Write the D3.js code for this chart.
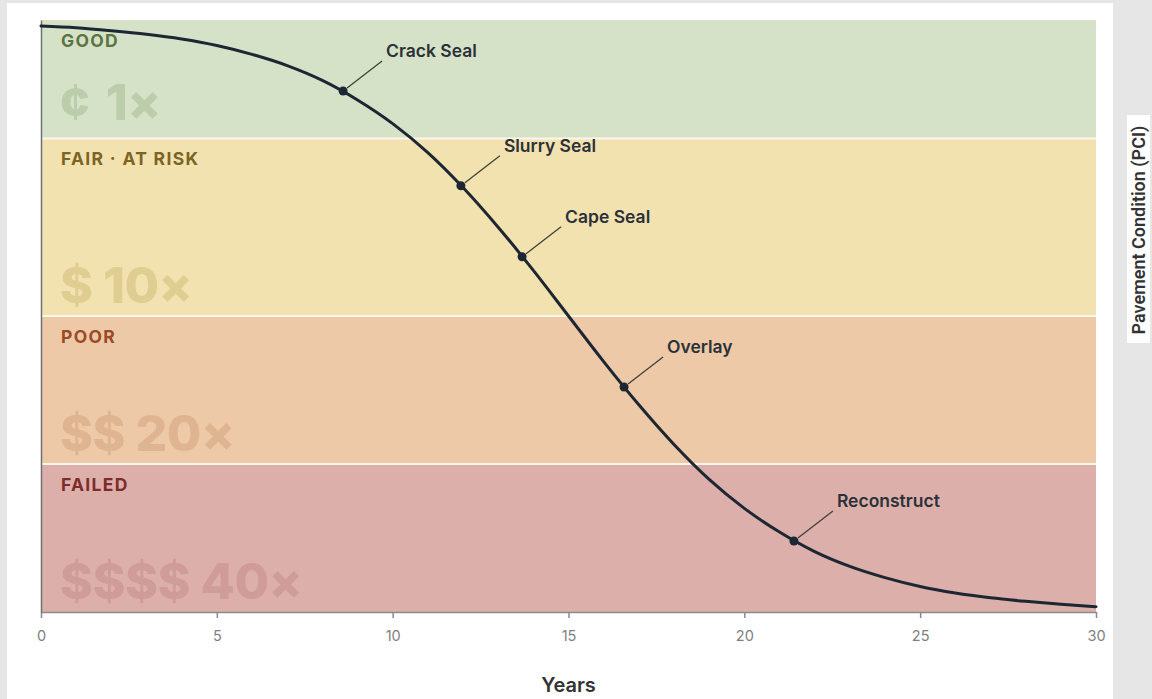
<!DOCTYPE html>
<html><head><meta charset="utf-8">
<script src="https://cdn.jsdelivr.net/npm/d3@7"></script>
<style>
html,body{margin:0;padding:0;background:#e6e6e6;}
svg{display:block;font-family:Inter,"Noto Sans",sans-serif;}
</style></head>
<body>
<svg id="chart" width="1152" height="699"></svg>
<script>
// ---- data ----
const years = [0,1,2,3,4,5,6,7,8,9,10,11,12,13,14,15,16,17,18,19,20,21,22,23,24,25,26,27,28,29,30];
const pci = [99.0,98.7,98.2,97.6,96.8,95.7,94.2,92.3,89.8,86.5,82.5,77.6,71.7,65.0,57.7,50.0,42.3,35.0,28.3,22.4,17.5,13.5,10.2,7.7,5.8,4.3,3.2,2.4,1.8,1.3,0.9];
const bandNames = ["GOOD","FAIR · AT RISK","POOR","FAILED"];
const bandLow = [80,50,25,0];
const bandHigh = [100,80,50,25];
const costLabels = ["¢ 1×","$ 10×","$$ 20×","$$$$ 40×"];
const treatments = ["Crack Seal","Slurry Seal","Cape Seal","Overlay","Reconstruct"];
const treatYears = [8.59,11.94,13.68,16.58,21.41];
const treatPci = [88,72,60,38,12];
const xTicks = [0,5,10,15,20,25,30];

// ---- styles ----
const bandFill = ["#d6e2c7","#f2e2b0","#edc9a7","#ddafab"];
const bandText = ["#5b7442","#7d6424","#9c4b26","#7c2c2c"];
const costFill = ["#bccdab","#dfcd92","#dfb491","#d09c9a"];

const svg = d3.select("#chart");
// white panel
svg.append("rect").attr("x",7).attr("y",3).attr("width",1106).attr("height",700).attr("fill","#ffffff");

const x = d3.scaleLinear().domain([0,30]).range([41,1096]);
const y = d3.scaleLinear().domain([0,100]).range([612,20]);

// bands
const bands = svg.append("g");
bandNames.forEach((name,i)=>{
  bands.append("rect")
    .attr("x",x(0)).attr("y",y(bandHigh[i]))
    .attr("width",x(30)-x(0)).attr("height",y(bandLow[i])-y(bandHigh[i]))
    .attr("fill",bandFill[i]);
});
// separators
bandLow.slice(0,3).forEach(v=>{
  bands.append("line").attr("x1",x(0)).attr("x2",x(30)).attr("y1",y(v)).attr("y2",y(v))
    .attr("stroke","#fbf6ec").attr("stroke-width",2);
});
bandNames.forEach((name,i)=>{
  bands.append("text").attr("x",x(0)+20).attr("y",y(bandHigh[i])+27)
    .attr("font-size",17.5).attr("font-weight",700).attr("letter-spacing",1.3)
    .attr("fill",bandText[i]).text(name);
  bands.append("text").attr("x",x(0)+19).attr("y",y(bandLow[i])-(i===0?18:13))
    .attr("font-size",50).attr("font-weight",800).attr("letter-spacing",-0.5)
    .attr("fill",costFill[i]).attr("word-spacing",i===0?6:0).text(costLabels[i]);
});

// axes
const xAxis = d3.axisBottom(x).tickValues(xTicks).tickSize(6).tickPadding(13).tickSizeOuter(0);
const gx = svg.append("g").attr("transform",`translate(0,${y(0)})`).call(xAxis);
gx.select(".domain").attr("stroke","#8a8a8a").attr("stroke-width",1.5);
gx.selectAll(".tick line").attr("stroke","#8a8a8a").attr("stroke-width",1.5);
gx.selectAll(".tick text").attr("fill","#808080").attr("font-size",14.5).attr("font-family","Inter, sans-serif");

const yAxis = d3.axisLeft(y).tickValues([]).tickSize(0).tickSizeOuter(0);
const gy = svg.append("g").attr("transform",`translate(${x(0)},0)`).call(yAxis);
gy.select(".domain").attr("stroke","#707070").attr("stroke-width",1.5);

// curve
const line = d3.line().x((d,i)=>x(years[i])).y(d=>y(d)).curve(d3.curveMonotoneX);
svg.append("path").datum(pci).attr("d",line).attr("fill","none")
  .attr("stroke","#1c2733").attr("stroke-width",3).attr("stroke-linecap","round");

// treatments
const tg = svg.append("g");
treatments.forEach((t,i)=>{
  const px = x(treatYears[i]), py = y(treatPci[i]);
  tg.append("line").attr("x1",px+4).attr("y1",py-3).attr("x2",px+39).attr("y2",py-30)
    .attr("stroke","#3d4238").attr("stroke-width",1.3);
  tg.append("circle").attr("cx",px).attr("cy",py).attr("r",4.5).attr("fill","#1c2733");
  tg.append("text").attr("x",px+43).attr("y",py-34)
    .attr("font-size",17.5).attr("font-weight",600).attr("fill","#2b3138").text(t);
});

// axis titles
svg.append("text").attr("x",(x(0)+x(30))/2).attr("y",692).attr("text-anchor","middle")
  .attr("font-size",20).attr("font-weight",600).attr("fill","#333").text("Years");

svg.append("rect").attr("x",1127).attr("y",115).attr("width",23).attr("height",228).attr("fill","#ffffff");
svg.append("text").attr("transform","translate(1145,230) rotate(-90)").attr("text-anchor","middle")
  .attr("font-size",18).attr("font-weight",600).attr("font-family","Roboto, sans-serif")
  .attr("fill","#333").text("Pavement Condition (PCI)");
</script>
</body></html>
